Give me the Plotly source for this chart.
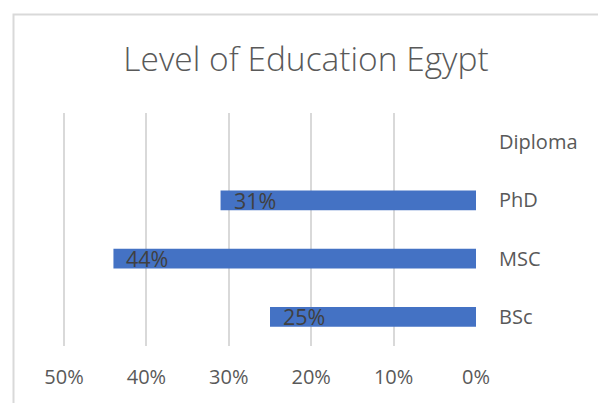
import plotly.graph_objects as go

# Education levels, listed top to bottom
levels = ["Diploma", "PhD", "MSC", "BSc"]
shares = [None, 31, 44, 25]          # percent of respondents
tick_vals = [50, 40, 30, 20, 10, 0]
tick_text = ["50%", "40%", "30%", "20%", "10%", "0%"]

W, H = 598, 403
ML, MR, MT, MB = 58, 122, 113, 57
plot_w = W - ML - MR
plot_h = H - MT - MB
PX_PER_PCT = 412 / 50                # 0% .. 50% spans 412 px
x_left = plot_w / PX_PER_PCT         # range edge a little past 50%

FONT = "Open Sans"
BAR = "#4472C4"
GRID = "#d9d9d9"

fig = go.Figure(
    go.Bar(
        x=shares,
        y=levels,
        orientation="h",
        marker=dict(color=BAR, line=dict(width=0)),
        hoverinfo="skip",
    )
)

# value labels sitting just inside the outer end of each bar
for lvl, v in zip(levels, shares):
    if v is None:
        continue
    fig.add_annotation(
        x=v, y=lvl, xref="x", yref="y",
        text=f"{v}%", showarrow=False,
        xanchor="left", yanchor="middle", xshift=11,
        font=dict(family=FONT, size=21.5, color="#404040"),
    )

# chart frame (top and left edges fall inside the view)
fig.add_shape(
    type="rect", xref="paper", yref="paper",
    x0=(13.5 - ML) / plot_w, x1=3,
    y0=-2, y1=1 + (MT - 14.5) / plot_h,
    line=dict(color=GRID, width=2), fillcolor="rgba(0,0,0,0)",
    layer="below",
)

fig.update_layout(
    width=W, height=H,
    margin=dict(l=ML, r=MR, t=MT, b=MB, pad=0),
    paper_bgcolor="white", plot_bgcolor="white",
    showlegend=False,
    bargap=0.66,
    title=dict(
        text="Level of Education Egypt",
        x=306 / W, xanchor="center", xref="container",
        y=1 - 59 / H, yanchor="middle", yref="container",
        font=dict(family=FONT, size=33.5, color="#595959", weight=300),
    ),
    xaxis=dict(
        range=[x_left, 0],
        tickvals=tick_vals, ticktext=tick_text,
        showgrid=True, gridcolor=GRID, gridwidth=2,
        zeroline=False, showline=False, ticks="",
        ticklabelstandoff=17,
        tickfont=dict(family=FONT, size=20, color="#595959"),
        fixedrange=True,
    ),
    yaxis=dict(
        categoryorder="array", categoryarray=levels[::-1],
        side="right", showgrid=False, zeroline=False,
        showline=False, ticks="", ticklabelstandoff=22,
        tickfont=dict(family=FONT, size=20, color="#595959"),
        fixedrange=True,
    ),
)

fig.write_html("out.html")
